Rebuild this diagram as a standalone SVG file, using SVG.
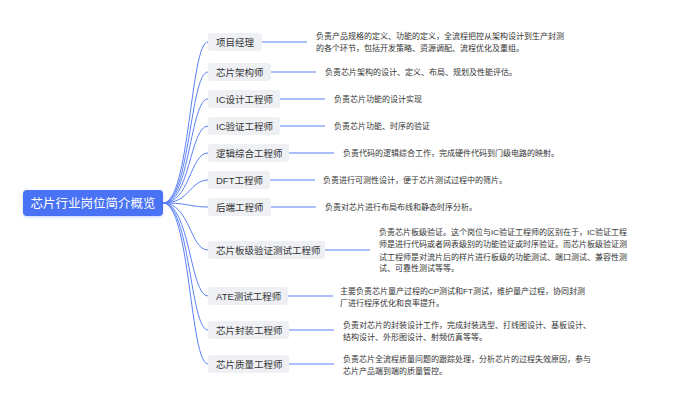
<svg xmlns="http://www.w3.org/2000/svg" width="692" height="400" viewBox="0 0 692 400">
<defs>
<filter id="sh" x="-10%" y="-30%" width="120%" height="160%">
<feDropShadow dx="0" dy="1" stdDeviation="1.5" flood-color="#4a72f5" flood-opacity="0.3"/>
</filter>
</defs>
<style>
text{font-family:"Liberation Sans","Noto Sans CJK SC",sans-serif;}
.root{fill:#4a72f5;}
.rt{fill:#ffffff;font-size:12.5px;text-anchor:middle;}
.node{fill:#eef0f3;}
.nt{fill:#333333;font-size:9.5px;}
.dt{fill:#333333;font-size:8px;}
.c{fill:none;stroke:#5b80f6;stroke-width:1;}
</style>
<rect width="692" height="400" fill="#ffffff"/>
<g id="connectors">
<path class="c" d="M163,203 C190,203 190,42 208,42"/>
<path class="c" d="M163,203 C190,203 190,72 208,72"/>
<path class="c" d="M163,203 C190,203 190,99 208,99"/>
<path class="c" d="M163,203 C190,203 190,126 208,126"/>
<path class="c" d="M163,203 C190,203 190,153 208,153"/>
<path class="c" d="M163,203 C190,203 190,180 208,180"/>
<path class="c" d="M163,203 C190,203 190,207 208,207"/>
<path class="c" d="M163,203 C190,203 190,250 208,250"/>
<path class="c" d="M163,203 C190,203 190,296 208,296"/>
<path class="c" d="M163,203 C190,203 190,330 208,330"/>
<path class="c" d="M163,203 C190,203 190,364 208,364"/>
<path class="c" d="M262,42 H307"/>
<path class="c" d="M271,72 H316"/>
<path class="c" d="M280,99 H325"/>
<path class="c" d="M280,126 H325"/>
<path class="c" d="M289,153 H334"/>
<path class="c" d="M270,180 H315"/>
<path class="c" d="M271,207 H316"/>
<path class="c" d="M325,250 H370"/>
<path class="c" d="M288,296 H333"/>
<path class="c" d="M289,330 H334"/>
<path class="c" d="M289,364 H334"/>
</g>
<g id="root">
<rect class="root" x="23" y="190" width="140" height="26" rx="4" filter="url(#sh)"/>
<text class="rt" x="93" y="207.5">芯片行业岗位简介概览</text>
</g>
<g id="n1">
<rect class="node" x="208" y="33" width="54" height="18" rx="3"/>
<text class="nt" x="216" y="45.5">项目经理</text>
<text class="dt" x="316" y="39">负责产品规格的定义、功能的定义，全流程把控从架构设计到生产封测</text>
<text class="dt" x="316" y="51">的各个环节，包括开发策略、资源调配、流程优化及重组。</text>
</g>
<g id="n2">
<rect class="node" x="208" y="63" width="63" height="18" rx="3"/>
<text class="nt" x="216" y="75.5">芯片架构师</text>
<text class="dt" x="325" y="75">负责芯片架构的设计、定义、布局、规划及性能评估。</text>
</g>
<g id="n3">
<rect class="node" x="208" y="90" width="72" height="18" rx="3"/>
<text class="nt" x="216" y="102.5">IC设计工程师</text>
<text class="dt" x="334" y="102">负责芯片功能的设计实现</text>
</g>
<g id="n4">
<rect class="node" x="208" y="117" width="72" height="18" rx="3"/>
<text class="nt" x="216" y="129.5">IC验证工程师</text>
<text class="dt" x="334" y="129">负责芯片功能、时序的验证</text>
</g>
<g id="n5">
<rect class="node" x="208" y="144" width="81" height="18" rx="3"/>
<text class="nt" x="216" y="156.5">逻辑综合工程师</text>
<text class="dt" x="343" y="156">负责代码的逻辑综合工作，完成硬件代码到门级电路的映射。</text>
</g>
<g id="n6">
<rect class="node" x="208" y="171" width="62" height="18" rx="3"/>
<text class="nt" x="216" y="183.5">DFT工程师</text>
<text class="dt" x="323" y="183">负责进行可测性设计，便于芯片测试过程中的筛片。</text>
</g>
<g id="n7">
<rect class="node" x="208" y="198" width="63" height="18" rx="3"/>
<text class="nt" x="216" y="210.5">后端工程师</text>
<text class="dt" x="325" y="210">负责对芯片进行布局布线和静态时序分析。</text>
</g>
<g id="n8">
<rect class="node" x="208" y="241" width="117" height="18" rx="3"/>
<text class="nt" x="216" y="253.5">芯片板级验证测试工程师</text>
<text class="dt" x="379" y="235">负责芯片板级验证。这个岗位与IC验证工程师的区别在于，IC验证工程</text>
<text class="dt" x="379" y="247">师是进行代码或者网表级别的功能验证或时序验证。而芯片板级验证测</text>
<text class="dt" x="379" y="259.5">试工程师是对流片后的样片进行板级的功能测试、端口测试、兼容性测</text>
<text class="dt" x="379" y="271">试、可靠性测试等等。</text>
</g>
<g id="n9">
<rect class="node" x="208" y="287" width="80" height="18" rx="3"/>
<text class="nt" x="216" y="299.5">ATE测试工程师</text>
<text class="dt" x="340" y="294">主要负责芯片量产过程的CP测试和FT测试，维护量产过程，协同封测</text>
<text class="dt" x="340" y="306">厂进行程序优化和良率提升。</text>
</g>
<g id="n10">
<rect class="node" x="208" y="321" width="81" height="18" rx="3"/>
<text class="nt" x="216" y="333.5">芯片封装工程师</text>
<text class="dt" x="343" y="328">负责对芯片的封装设计工作，完成封装选型、打线图设计、基板设计、</text>
<text class="dt" x="343" y="340">结构设计、外形图设计、射频仿真等等。</text>
</g>
<g id="n11">
<rect class="node" x="208" y="355" width="81" height="18" rx="3"/>
<text class="nt" x="216" y="367.5">芯片质量工程师</text>
<text class="dt" x="343" y="362">负责芯片全流程质量问题的跟踪处理，分析芯片的过程失效原因，参与</text>
<text class="dt" x="343" y="374">芯片产品端到端的质量管控。</text>
</g>
</svg>
